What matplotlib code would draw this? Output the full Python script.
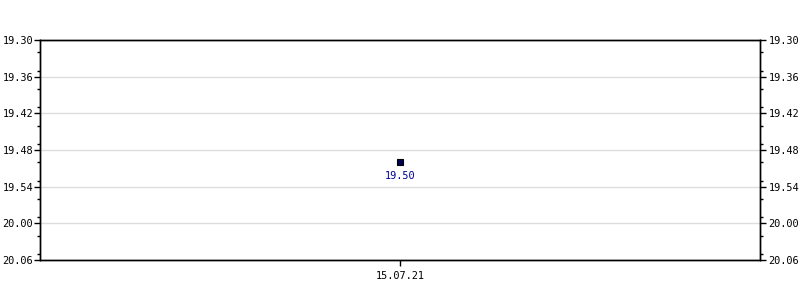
import matplotlib
matplotlib.use("Agg")
import matplotlib.pyplot as plt
from matplotlib.ticker import MultipleLocator

dates = ["15.07.21"]
values = [19.50]
value_labels = ["19.50"]
y_ticks = [19.30, 19.36, 19.42, 19.48, 19.54, 19.60, 19.66]
y_tick_labels = ["19.30", "19.36", "19.42", "19.48", "19.54", "20.00", "20.06"]

fig = plt.figure(figsize=(8, 3), dpi=100)
ax = fig.add_axes([40/800, 40/300, 720/800, 220/300])
font = "DejaVu Sans Mono"
fs = 7.4

xs = list(range(1, len(dates) + 1))
ax.plot(xs, values, linestyle="none", marker="s", markersize=4.5,
        markerfacecolor="#000050", markeredgecolor="#000000", markeredgewidth=0.8, zorder=5)
for x, v, t in zip(xs, values, value_labels):
    ax.annotate(t, (x, v), xytext=(0, -10), textcoords="offset points",
                ha="center", va="center", color="#000099", fontsize=fs, family=font)

ax.set_xlim(0, len(dates) + 1)
ax.set_ylim(y_ticks[-1], y_ticks[0])
ax.set_xticks(xs)
ax.set_xticklabels(dates, family=font, fontsize=fs)
ax.set_yticks(y_ticks)
ax.set_yticklabels(y_tick_labels, family=font, fontsize=fs)
ax.yaxis.set_minor_locator(MultipleLocator(0.03))
ax.grid(axis="y", color="#dddddd", linewidth=1)
ax.set_axisbelow(True)
for s in ax.spines.values():
    s.set_linewidth(1)
    s.set_color("black")
ax.tick_params(axis="x", which="major", direction="out", length=4, width=1, pad=4, colors="black")
ax.tick_params(axis="y", which="major", direction="out", length=4, width=1, pad=1, colors="black",
               left=True, right=False)
ax.tick_params(axis="y", which="minor", direction="out", length=2, width=1, left=True, right=False)

ax2 = ax.twinx()
ax2.set_ylim(y_ticks[-1], y_ticks[0])
ax2.set_yticks(y_ticks)
ax2.set_yticklabels(y_tick_labels, family=font, fontsize=fs)
ax2.yaxis.set_minor_locator(MultipleLocator(0.03))
ax2.tick_params(axis="y", which="major", direction="out", length=4, width=1, pad=2, colors="black",
                left=False, right=True)
ax2.tick_params(axis="y", which="minor", direction="out", length=2, width=1, left=False, right=True)
for s in ax2.spines.values():
    s.set_linewidth(1)
    s.set_color("black")

fig.savefig("out.png", dpi=100)
